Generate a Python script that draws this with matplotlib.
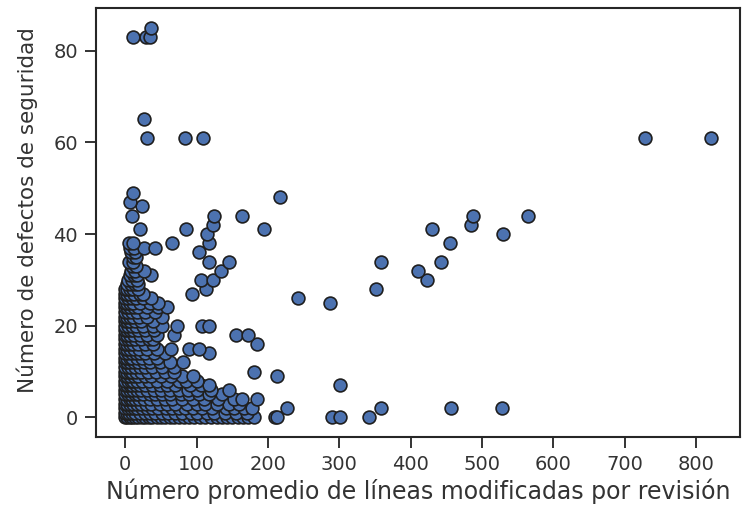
import matplotlib
matplotlib.use("Agg")
import matplotlib.pyplot as plt
import seaborn as sns

# puntos, agrupados por número de defectos
filas = {
    0: [0, 3, 6, 10, 14, 18, 23, 28, 33, 38, 44, 50, 56, 62, 68, 75, 82, 90, 97, 105,
        112, 120, 128, 135, 143, 150, 158, 165, 172, 180, 210, 212, 290, 301, 341],
    1: [0, 2, 5, 9, 13, 20, 27, 35, 42, 52, 60, 70, 80, 92, 100, 115, 125, 140, 155, 170],
    2: [0, 4, 8, 12, 17, 24, 30, 38, 46, 57, 66, 75, 84, 95, 108, 122, 141, 152, 166, 178,
        226, 358, 457, 528],
    3: [0, 3, 7, 11, 16, 22, 29, 36, 48, 58, 70, 86, 100, 112, 128, 145, 160],
    4: [0, 2, 6, 9, 14, 19, 26, 34, 45, 55, 65, 80, 95, 110, 130, 153, 164, 185],
    5: [0, 4, 8, 13, 18, 25, 34, 42, 52, 62, 78, 90, 103, 118, 135],
    6: [0, 3, 7, 11, 16, 22, 30, 40, 50, 62, 75, 88, 100, 120, 145],
    7: [0, 2, 6, 10, 15, 21, 28, 38, 48, 58, 70, 91, 106, 117, 301],
    8: [0, 4, 8, 11, 16, 24, 33, 45, 59, 75, 85, 100],
    9: [0, 3, 7, 12, 18, 27, 36, 50, 64, 80, 95, 213],
    10: [0, 2, 6, 10, 15, 22, 32, 43, 55, 68, 181],
    11: [0, 4, 8, 14, 20, 28, 38, 52, 68],
    12: [0, 3, 7, 12, 18, 26, 35, 48, 62, 81],
    13: [0, 2, 6, 10, 16, 23, 33, 44],
    14: [0, 4, 9, 15, 21, 27, 40, 55, 117],
    15: [0, 3, 7, 12, 19, 30, 45, 64, 90, 103],
    16: [0, 2, 6, 11, 18, 28, 39, 185],
    17: [0, 4, 8, 14, 22, 33, 39],
    18: [0, 3, 7, 12, 20, 30, 45, 68, 155, 172],
    19: [0, 2, 6, 11, 18, 28, 40],
    20: [0, 4, 9, 15, 25, 39, 52, 72, 108, 117],
    21: [0, 3, 7, 13, 22, 39],
    22: [0, 2, 6, 11, 19, 30, 52],
    23: [0, 4, 9, 16, 28, 41],
    24: [0, 3, 7, 12, 18, 30, 46, 58],
    25: [0, 2, 6, 11, 20, 35, 46, 287],
    26: [0, 4, 9, 15, 25, 36, 242],
    27: [0, 3, 7, 12, 20, 25, 93],
    28: [0, 2, 6, 11, 18, 113, 351],
    29: [2, 8, 14, 18],
    30: [4, 10, 16, 106, 123, 423],
    31: [6, 12, 16, 36],
    32: [8, 14, 26, 134, 411],
    33: [9, 15],
    34: [5, 11, 117, 145, 358, 443],
    35: [11, 15],
    36: [8, 14, 103],
    37: [6, 12, 26, 42],
    38: [5, 11, 66, 117, 455],
    40: [115, 530],
    41: [20, 85, 195, 430],
    42: [123, 484],
    44: [10, 125, 163, 487, 565],
    46: [24],
    47: [6],
    48: [217],
    49: [11],
    61: [30, 84, 109, 729, 821],
    65: [26],
    83: [11, 29, 34],
    85: [36],
}

lineas = [x for y, xs in filas.items() for x in xs]
defectos = [y for y, xs in filas.items() for x in xs]

sns.set_style("ticks")
plt.rcParams["font.family"] = ["DejaVu Sans"]

fig, ax = plt.subplots(figsize=(7.5, 5.11), dpi=100)
fig.subplots_adjust(left=0.128, right=0.987, bottom=0.145, top=0.984)

ax.scatter(lineas, defectos, s=85, color="#4c72b0", edgecolor="#1f1f1f", linewidth=1.2)

ax.set_xticks(range(0, 801, 100))
ax.set_yticks(range(0, 81, 20))
ax.tick_params(labelsize=14, length=8, width=1.4, colors="#333333", pad=5)
for s in ax.spines.values():
    s.set_linewidth(1.5)
    s.set_color(".15")

ax.set_xlabel("Número promedio de líneas modificadas por revisión", fontsize=17, color="#333333", labelpad=3)
ax.set_ylabel("Número de defectos de seguridad", fontsize=15.5, color="#333333")
ax.yaxis.set_label_coords(-0.09, 0.53)

plt.savefig("out.png", dpi=100)
